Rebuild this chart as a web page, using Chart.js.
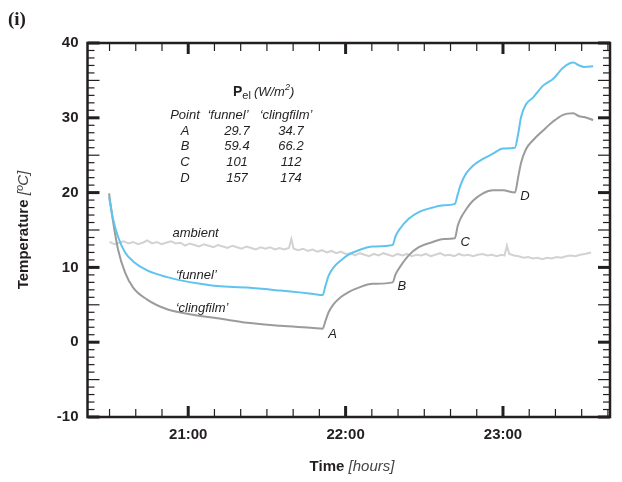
<!DOCTYPE html>
<html>
<head>
<meta charset="utf-8">
<script src="https://cdn.jsdelivr.net/npm/chart.js@4.4.1/dist/chart.umd.min.js"></script>
<style>
  body { margin: 0; background: #fff; }
  #wrap { width: 622px; height: 482px; position: relative; }
</style>
</head>
<body>
<div id="wrap"><canvas id="tempChart" width="622" height="482"></canvas></div>
<script>
// time in decimal hours (21.5 = 21:30)
const curveTime = [20.497, 20.522, 20.554, 20.599, 20.650, 20.739, 20.866, 20.968, 21.076, 21.185, 21.376,
    21.586, 21.796, 21.854, 21.873, 21.892, 21.924, 21.968, 22.019, 22.083, 22.172, 22.299, 22.318,
    22.350, 22.401, 22.465, 22.554, 22.624, 22.694, 22.713, 22.732, 22.764, 22.809, 22.873, 22.936,
    23.000, 23.076, 23.096, 23.115, 23.146, 23.191, 23.255, 23.318, 23.382, 23.446, 23.484, 23.516, 23.573];
const funnelTemp = [19.4, 16.5, 14.1, 12.0, 10.8, 9.6, 8.7, 8.2, 7.8, 7.5, 7.3,
    6.9, 6.45, 6.3, 7.6, 8.9, 10.0, 10.9, 11.7, 12.3, 12.8, 13.0, 14.2,
    15.3, 16.5, 17.4, 18.0, 18.3, 18.5, 19.8, 21.1, 22.5, 23.6, 24.5, 25.2,
    25.9, 26.0, 27.8, 30.1, 31.8, 32.7, 34.3, 35.2, 36.7, 37.4, 37.0, 36.8, 36.9];
const clingfilmTemp = [19.9, 16.2, 12.4, 9.3, 7.3, 5.7, 4.4, 3.9, 3.5, 3.2, 2.6,
    2.2, 1.9, 1.8, 2.9, 4.0, 5.1, 6.0, 6.7, 7.3, 7.8, 8.0, 9.1,
    10.2, 11.6, 12.7, 13.4, 13.8, 13.9, 15.6, 16.6, 17.7, 18.9, 19.9, 20.3,
    20.3, 20.0, 22.0, 24.0, 25.8, 27.0, 28.3, 29.5, 30.4, 30.6, 30.2, 30.1, 29.7];

const ambientTime = [20.50, 20.53, 20.56, 20.59, 20.62, 20.65, 20.68, 20.71, 20.74, 20.77, 20.80, 20.83,
    20.86, 20.89, 20.92, 20.95, 20.98, 21.01, 21.04, 21.07, 21.10, 21.13, 21.16, 21.19, 21.22, 21.25,
    21.28, 21.31, 21.34, 21.37, 21.40, 21.43, 21.46, 21.49, 21.52, 21.55, 21.58, 21.61, 21.64, 21.655,
    21.67, 21.70, 21.73, 21.76, 21.79, 21.82, 21.85, 21.88, 21.91, 21.94, 21.97, 22.00, 22.03, 22.06,
    22.09, 22.12, 22.15, 22.18, 22.21, 22.24, 22.27, 22.30, 22.33, 22.36, 22.39, 22.42, 22.45, 22.48,
    22.51, 22.54, 22.57, 22.60, 22.63, 22.66, 22.69, 22.72, 22.75, 22.78, 22.81, 22.84, 22.87, 22.90,
    22.93, 22.96, 22.99, 23.01, 23.025, 23.04, 23.07, 23.10, 23.13, 23.16, 23.19, 23.22, 23.25, 23.28,
    23.31, 23.34, 23.37, 23.40, 23.43, 23.46, 23.49, 23.52, 23.56];
const ambientTemp = [13.4, 13.1, 13.3, 13.5, 13.2, 13.4, 13.1, 13.3, 13.6, 13.2, 13.4, 13.1,
    13.3, 13.5, 13.2, 13.3, 12.9, 13.2, 13.0, 12.8, 13.1, 12.9, 12.7, 13.0, 12.8, 12.6,
    12.9, 12.7, 12.5, 12.8, 12.6, 12.4, 12.7, 12.5, 12.7, 12.4, 12.6, 12.4, 12.6, 13.8,
    12.5, 12.3, 12.5, 12.2, 12.4, 12.1, 12.3, 12.0, 12.2, 11.9, 12.1, 11.8, 11.9, 11.6,
    11.9, 11.7, 11.5, 11.8, 11.6, 11.9, 11.7, 11.5, 11.8, 11.6, 11.8, 11.5, 11.7, 11.6,
    11.8, 11.5, 11.7, 11.9, 11.6, 11.7, 11.5, 11.8, 11.6, 11.7, 11.5, 11.7, 11.8, 11.6,
    11.7, 11.5, 11.7, 11.6, 12.9, 11.8, 11.6, 11.5, 11.3, 11.4, 11.2, 11.3, 11.1, 11.3,
    11.2, 11.4, 11.3, 11.5, 11.6, 11.5, 11.7, 11.8, 12.0];

const hourLabels = {21: '21:00', 22: '22:00', 23: '23:00'};
const tablePoints = ['A', 'B', 'C', 'D'];
const funnelPower = ['29.7', '59.4', '101', '157'];
const clingfilmPower = ['34.7', '66.2', '112', '174'];

const xMin = 20.36, xMax = 23.68;
const yMin = -10, yMax = 40;

const ink = '#231f20';
const font = '"Liberation Sans", Arial, sans-serif';

const toPoints = (xs, ys) => xs.map((t, i) => ({x: t, y: ys[i]}));

// inward tick marks on all four sides + heavy frame
const frameTicks = {
    id: 'frameTicks',
    afterDatasetsDraw(chart) {
        const {ctx, chartArea: a, scales: {x, y}} = chart;
        ctx.save();
        ctx.strokeStyle = ink;
        const seg = (x1, y1, x2, y2) => {
            ctx.beginPath();
            ctx.moveTo(x1, y1);
            ctx.lineTo(x2, y2);
            ctx.stroke();
        };
        for (let v = yMin; v <= yMax; v++) {
            const py = y.getPixelForValue(v);
            const major = v % 10 === 0;
            const len = major || v % 5 === 0 ? 12 : 7;
            ctx.lineWidth = major ? 3 : 1.2;
            seg(a.left, py, a.left + len, py);
            seg(a.right, py, a.right - len, py);
        }
        for (let m = Math.ceil(xMin * 6); m <= Math.floor(xMax * 6); m++) {
            const px = x.getPixelForValue(m / 6);
            const hour = m % 6 === 0;
            const len = hour ? 11 : 8;
            ctx.lineWidth = hour ? 3 : 1.2;
            seg(px, a.bottom, px, a.bottom - len);
            seg(px, a.top, px, a.top + len);
        }
        ctx.lineWidth = 2.5;
        ctx.strokeRect(a.left, a.top, a.right - a.left, a.bottom - a.top);
        ctx.restore();
    }
};

// panel letter, axis titles, curve labels and power table
const annotations = {
    id: 'annotations',
    afterDraw(chart) {
        const {ctx, scales: {x, y}} = chart;
        ctx.save();
        ctx.fillStyle = ink;
        ctx.textBaseline = 'middle';

        ctx.font = 'bold 19px "Liberation Serif", "Times New Roman", serif';
        ctx.textAlign = 'left';
        ctx.fillText('(i)', 8, 20);

        // x title
        ctx.font = 'bold 15px ' + font;
        const wTime = ctx.measureText('Time ').width;
        ctx.font = 'italic 15px ' + font;
        const wHours = ctx.measureText('[hours]').width;
        let sx = 352 - (wTime + wHours) / 2;
        ctx.font = 'bold 15px ' + font;
        ctx.fillText('Time ', sx, 467);
        ctx.font = 'italic 15px ' + font;
        ctx.fillStyle = '#444';
        ctx.fillText('[hours]', sx + wTime, 467);

        // y title
        ctx.save();
        ctx.translate(24, 230);
        ctx.rotate(-Math.PI / 2);
        ctx.font = 'bold 15px ' + font;
        const wTemp = ctx.measureText('Temperature ').width;
        ctx.font = 'italic 15px ' + font;
        const wDeg = ctx.measureText('[ºC]').width;
        sx = -(wTemp + wDeg) / 2;
        ctx.fillStyle = ink;
        ctx.font = 'bold 15px ' + font;
        ctx.fillText('Temperature ', sx, 0);
        ctx.fillStyle = '#444';
        ctx.font = 'italic 15px ' + font;
        ctx.fillText('[ºC]', sx + wTemp, 0);
        ctx.restore();

        // curve labels
        ctx.fillStyle = ink;
        ctx.font = 'italic 13px ' + font;
        ctx.textAlign = 'left';
        const tag = (s, t, v) => ctx.fillText(s, x.getPixelForValue(t), y.getPixelForValue(v));
        tag('ambient', 20.90, 14.5);
        tag('‘funnel’', 20.92, 8.9);
        tag('‘clingfilm’', 20.92, 4.5);
        tag('A', 21.89, 1.1);
        tag('B', 22.33, 7.4);
        tag('C', 22.73, 13.4);
        tag('D', 23.11, 19.5);

        // table header P_el (W/m2)
        ctx.font = 'bold 14px ' + font;
        ctx.fillText('P', 233, 92);
        let px = 233 + ctx.measureText('P').width;
        ctx.font = '11px ' + font;
        ctx.fillText('el', px, 96);
        px += ctx.measureText('el').width + 3;
        ctx.font = 'italic 13px ' + font;
        ctx.fillText('(W/m', px, 92);
        px += ctx.measureText('(W/m').width;
        ctx.font = 'italic 9px ' + font;
        ctx.fillText('2', px, 87);
        px += ctx.measureText('2').width;
        ctx.font = 'italic 13px ' + font;
        ctx.fillText(')', px, 92);

        ctx.textAlign = 'center';
        ctx.font = 'italic 13px ' + font;
        ctx.fillText('Point', 185, 115);
        ctx.fillText('‘funnel’', 228, 115);
        ctx.fillText('‘clingfilm’', 286, 115);
        tablePoints.forEach((p, i) => {
            const ry = 131 + i * 15.8;
            ctx.fillText(p, 185, ry);
            ctx.fillText(funnelPower[i], 237, ry);
            ctx.fillText(clingfilmPower[i], 291, ry);
        });
        ctx.restore();
    }
};

new Chart('tempChart', {
    type: 'line',
    data: {
        datasets: [{
            label: 'funnel',
            data: toPoints(curveTime, funnelTemp),
            borderColor: '#5ec4ee',
            borderWidth: 2,
            cubicInterpolationMode: 'monotone'
        }, {
            label: 'clingfilm',
            data: toPoints(curveTime, clingfilmTemp),
            borderColor: '#9b9b9b',
            borderWidth: 2,
            cubicInterpolationMode: 'monotone'
        }, {
            label: 'ambient',
            data: toPoints(ambientTime, ambientTemp),
            borderColor: '#d2d2d2',
            borderWidth: 2,
            tension: 0
        }]
    },
    options: {
        responsive: false,
        animation: false,
        events: [],
        elements: { point: { radius: 0 } },
        layout: { padding: { top: 43, right: 12, left: 0, bottom: 0 } },
        plugins: { legend: { display: false }, tooltip: { enabled: false } },
        scales: {
            x: {
                type: 'linear',
                min: xMin,
                max: xMax,
                grid: { display: false, drawTicks: false },
                border: { display: false },
                afterFit: s => { s.height = 65; },
                ticks: {
                    stepSize: 1,
                    autoSkip: false,
                    maxRotation: 0,
                    padding: 9,
                    color: ink,
                    font: { family: font, size: 15, weight: 'bold' },
                    callback: v => hourLabels[v] || ''
                }
            },
            y: {
                min: yMin,
                max: yMax,
                grid: { display: false, drawTicks: false },
                border: { display: false },
                afterFit: s => { s.width = 87.5; },
                ticks: {
                    stepSize: 10,
                    padding: 9,
                    color: ink,
                    font: { family: font, size: 15, weight: 'bold' }
                }
            }
        }
    },
    plugins: [frameTicks, annotations]
});
</script>
</body>
</html>
